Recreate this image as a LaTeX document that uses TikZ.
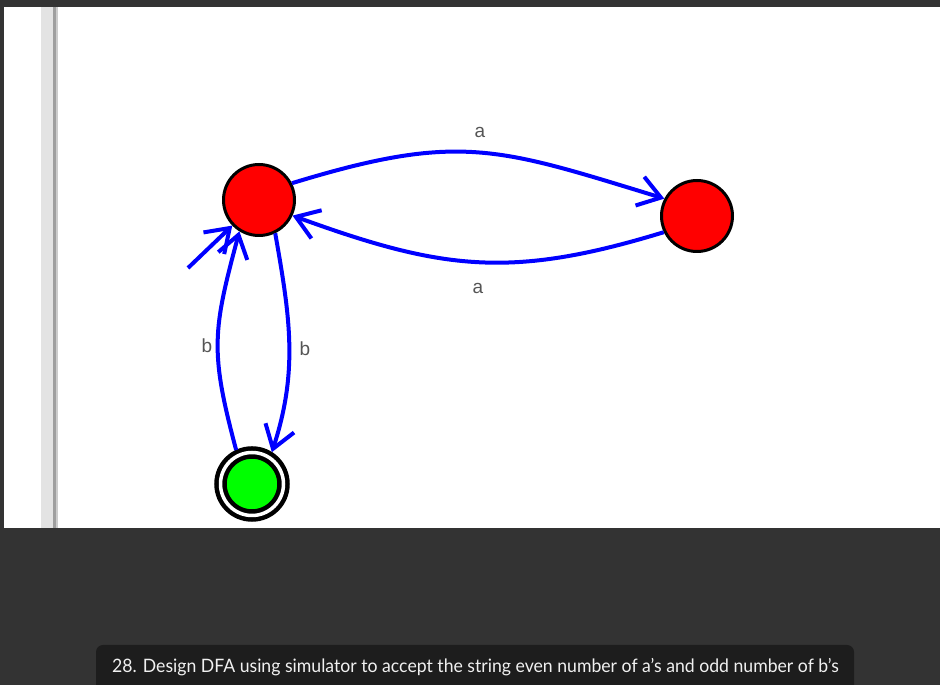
\documentclass[tikz,border=0pt]{standalone}
\usepackage{fontspec}
\setmainfont{Liberation Sans}
\newfontfamily\captionfont{Lato}
\usetikzlibrary{arrows.meta}
\definecolor{statered}{RGB}{255,0,0}
\definecolor{finalgreen}{RGB}{0,255,0}
\definecolor{edgeblue}{RGB}{0,0,255}
\definecolor{screengray}{RGB}{51,51,51}
\definecolor{captionbg}{RGB}{29,29,29}
\definecolor{labelgray}{RGB}{85,85,85}

\begin{document}
\begin{tikzpicture}[x=1pt, y=1pt, >={Straight Barb[length=22pt,width=30pt]},
    state/.style={circle, draw=black, line width=3pt, fill=statered, minimum size=71pt, inner sep=0pt},
    accept/.style={circle, draw=black, line width=4.5pt, double=white, double distance=3.5pt,
        fill=finalgreen, minimum size=63pt, inner sep=0pt, outer sep=6pt},
    edge/.style={->, draw=edgeblue, line width=4pt},
    lbl/.style={text=labelgray, font=\fontsize{19}{19}\selectfont}]
    \useasboundingbox (0,0) rectangle (940,685);
    % screen
    \fill[screengray] (0,0) rectangle (940,685);
    \fill[white] (4,157) rectangle (940,678);
    \fill[gray!22] (41,157) rectangle (53,678);
    \fill[gray!75] (53,157) rectangle (56,678);
    \fill[gray!40] (56,157) rectangle (57.5,678);

    % states
    \node[state] (qa) at (259,485) {};
    \node[state] (qb) at (697,469) {};
    \node[accept] (qc) at (252,201) {};
    \coordinate (init) at (188,417);

    % transitions
    \draw[edge] (init) -- (qa);
    \draw[edge] (qa.27) to[out=17, in=163, looseness=1.2] (qb.152);
    \draw[edge] (qb.206) to[out=197, in=-20, looseness=1.1] (qa.-25);
    \draw[edge] (qa.-64) to[out=-80, in=72] (qc.58);
    \draw[edge] (qc.115) to[out=105, in=-105, looseness=1.2] (qa.-122);

    \node[lbl] (la1) at (480,553) {a};
    \node[lbl] (la2) at (478,397) {a};
    \node[lbl] (lb1) at (207,339) {b};
    \node[lbl] (lb2) at (305,336) {b};

    % caption
    \fill[captionbg, rounded corners=7pt] (96,-10) rectangle (854,40);
    \node[anchor=base west, inner sep=0pt, text=white!94!black,
        font=\captionfont\fontsize{18.5}{18.5}\selectfont] (cap) at (112,12)
        {\scalebox{0.954}[1]{28. Design DFA using simulator to accept the string even number of a’s and odd number of b’s}};
\end{tikzpicture}
\end{document}
